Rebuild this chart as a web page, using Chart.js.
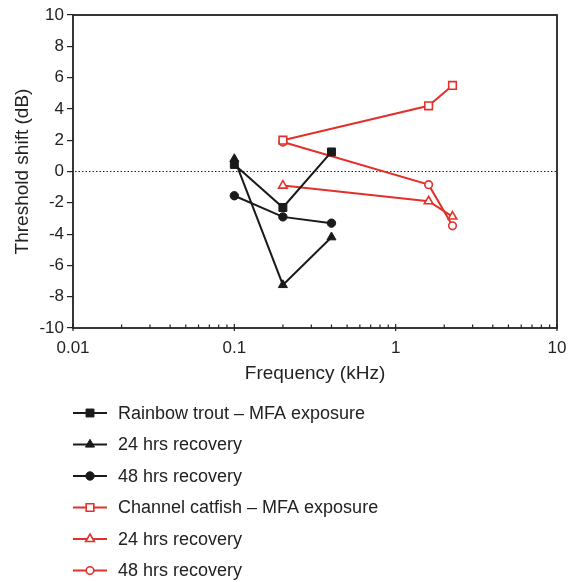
<!DOCTYPE html>
<html>
<head>
<meta charset="utf-8">
<script src="https://cdn.jsdelivr.net/npm/chart.js@4/dist/chart.umd.min.js"></script>
<style>
  html, body { margin: 0; padding: 0; background: #fff; }
  #wrap { width: 569px; height: 582px; }
</style>
</head>
<body>
<div id="wrap"><canvas id="c" width="569" height="582"></canvas></div>
<script>
// ---- data ----
const freqTrout   = [0.1, 0.2, 0.4];
const troutMFA    = [0.45, -2.3, 1.25];
const trout24     = [0.8, -7.25, -4.2];
const trout48     = [-1.55, -2.9, -3.3];

const freqCatfish = [0.2, 1.6, 2.25];
const catMFA      = [2.0, 4.2, 5.5];
const cat24       = [-0.9, -1.9, -2.88];
const cat48       = [1.88, -0.84, -3.47];

const seriesLabels = [
  'Rainbow trout \u2013 MFA exposure', '24 hrs recovery', '48 hrs recovery',
  'Channel catfish \u2013 MFA exposure', '24 hrs recovery', '48 hrs recovery'
];
const yTicks = [-10, -8, -6, -4, -2, 0, 2, 4, 6, 8, 10];
const xMajorTicks = [0.01, 0.1, 1, 10];

const BLACK = '#1a1a1a';
const RED = '#e3302a';
const FONT = "'Liberation Sans', Arial, Helvetica, sans-serif";

function pts(xs, ys) { return xs.map((x, i) => ({ x: x, y: ys[i] })); }

function ds(label, xs, ys, color, style, filled, radius) {
  return {
    label: label,
    data: pts(xs, ys),
    borderColor: color,
    backgroundColor: filled ? color : '#ffffff',
    borderWidth: 2,
    pointStyle: style,
    pointRadius: radius,
    pointHoverRadius: radius,
    pointBorderWidth: filled ? 1 : 1.6,
    pointBorderColor: color,
    pointBackgroundColor: filled ? color : '#ffffff',
    fill: false,
    tension: 0
  };
}

const datasets = [
  ds(seriesLabels[0], freqTrout, troutMFA, BLACK, 'rect', true, 5.6),
  ds(seriesLabels[1], freqTrout, trout24, BLACK, 'triangle', true, 5.2),
  ds(seriesLabels[2], freqTrout, trout48, BLACK, 'circle', true, 4.2),
  ds(seriesLabels[3], freqCatfish, catMFA, RED, 'rect', false, 5.4),
  ds(seriesLabels[4], freqCatfish, cat24, RED, 'triangle', false, 5),
  ds(seriesLabels[5], freqCatfish, cat48, RED, 'circle', false, 3.8)
];

// frame, zero line, inward x ticks
const framePlugin = {
  id: 'frame',
  beforeDatasetsDraw(chart) {
    const { ctx, chartArea: a, scales } = chart;
    const y0 = scales.y.getPixelForValue(0);
    ctx.save();
    ctx.strokeStyle = '#222';
    ctx.lineWidth = 1.2;
    ctx.setLineDash([1.5, 2]);
    ctx.beginPath();
    ctx.moveTo(a.left + 2, y0);
    ctx.lineTo(a.right - 1, y0);
    ctx.stroke();
    ctx.restore();
  },
  afterDatasetsDraw(chart) {
    const { ctx, chartArea: a, scales } = chart;
    ctx.save();
    ctx.strokeStyle = '#222';
    ctx.lineWidth = 1.8;
    ctx.strokeRect(a.left, a.top, a.right - a.left, a.bottom - a.top);
    ctx.lineWidth = 1.2;
    const xs = scales.x;
    for (let d = 0; d < xMajorTicks.length; d++) {
      const dec = xMajorTicks[d];
      const px = xs.getPixelForValue(dec);
      ctx.beginPath();
      ctx.moveTo(px, a.bottom - 4);
      ctx.lineTo(px, a.bottom + 3);
      ctx.stroke();
      if (d < xMajorTicks.length - 1) {
        for (let k = 2; k <= 9; k++) {
          const p = xs.getPixelForValue(k * dec);
          ctx.beginPath();
          ctx.moveTo(p, a.bottom - 3.5);
          ctx.lineTo(p, a.bottom);
          ctx.stroke();
        }
      }
    }
    ctx.restore();
  }
};

// legend drawn below the chart (one entry per row)
const legendPlugin = {
  id: 'customLegend',
  afterDraw(chart) {
    const { ctx } = chart;
    const x0 = 73, x1 = 107, xm = 90, tx = 118;
    const yStart = 413, step = 31.5;
    ctx.save();
    chart.data.datasets.forEach((d, i) => {
      const y = yStart + i * step;
      ctx.strokeStyle = d.borderColor;
      ctx.lineWidth = 2;
      ctx.setLineDash([]);
      ctx.beginPath();
      ctx.moveTo(x0, y);
      ctx.lineTo(x1, y);
      ctx.stroke();
      ctx.fillStyle = d.pointBackgroundColor;
      ctx.strokeStyle = d.pointBorderColor;
      ctx.lineWidth = d.pointBorderWidth;
      Chart.helpers.drawPoint(ctx, {
        pointStyle: d.pointStyle,
        rotation: 0,
        radius: d.pointRadius,
        borderWidth: d.pointBorderWidth
      }, xm, y);
      ctx.fillStyle = '#222';
      ctx.font = '18px ' + FONT;
      ctx.textBaseline = 'middle';
      ctx.textAlign = 'left';
      ctx.fillText(d.label, tx, y + 1);
    });
    ctx.restore();
  }
};

new Chart(document.getElementById('c'), {
  type: 'line',
  data: { datasets: datasets },
  options: {
    responsive: false,
    animation: false,
    events: [],
    layout: { padding: { left: 0, top: 15, right: 4, bottom: 194 } },
    plugins: {
      legend: { display: false },
      tooltip: { enabled: false }
    },
    scales: {
      x: {
        type: 'logarithmic',
        min: 0.01,
        max: 10,
        afterFit(scale) {
          scale.height = 60;
          scale.paddingRight = 12;
          scale.paddingLeft = 0;
        },
        grid: { display: false, drawTicks: false },
        border: { display: false },
        ticks: {
          autoSkip: false,
          maxRotation: 0,
          padding: 10,
          color: '#222',
          font: { family: FONT, size: 17 },
          callback: function (v) {
            return xMajorTicks.includes(Number(v)) ? String(v) : '';
          }
        },
        afterBuildTicks(scale) {
          scale.ticks = xMajorTicks.map(v => ({ value: v }));
        },
        title: {
          display: true,
          text: 'Frequency (kHz)',
          color: '#222',
          font: { family: FONT, size: 19 },
          padding: { top: 0, bottom: 3 }
        }
      },
      y: {
        min: -10,
        max: 10,
        afterFit(scale) { scale.width = 73; },
        afterBuildTicks(scale) {
          scale.ticks = yTicks.map(v => ({ value: v }));
        },
        grid: {
          drawOnChartArea: false,
          drawTicks: true,
          tickLength: 6,
          color: '#222',
          lineWidth: 1.2
        },
        border: { display: false },
        ticks: {
          padding: 3,
          color: '#222',
          font: { family: FONT, size: 17 }
        },
        title: {
          display: true,
          text: 'Threshold shift (dB)',
          color: '#222',
          font: { family: FONT, size: 19 },
          padding: { top: 11, bottom: 0 }
        }
      }
    }
  },
  plugins: [framePlugin, legendPlugin]
});
</script>
</body>
</html>
